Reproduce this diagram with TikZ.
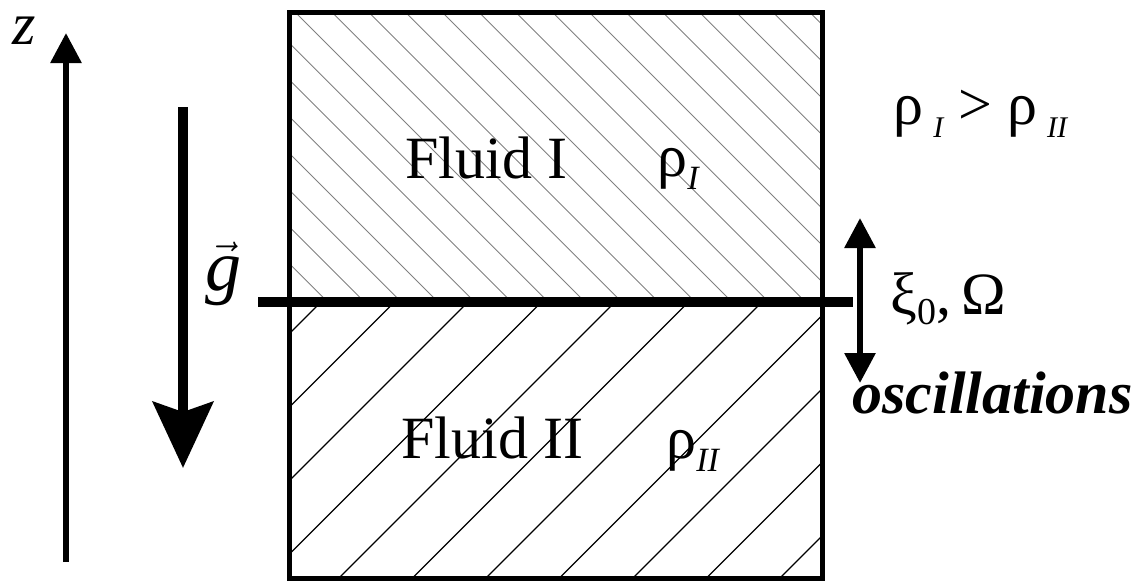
\documentclass[tikz,border=0pt]{standalone}
\usepackage{fontspec}
\setmainfont{Liberation Serif}
\usetikzlibrary{arrows.meta}
\newcommand{\lowsub}[2][17]{\raisebox{-6.5pt}{\fontsize{#1}{#1}\selectfont\itshape #2}}

\begin{document}
\begin{tikzpicture}[
  x=0.5pt,y=-0.5pt,
  txt/.style={inner sep=0pt,anchor=base west,font=\fontsize{30}{36}\selectfont},
  wall/.style={line width=2.5pt},
  ]
  \tikzset{%
    hatchtop/.style={gray,line width=0.45pt},
    hatchbot/.style={black,line width=0.6pt},
    axisarrow/.style={line width=3pt,-{Triangle[length=15pt,width=15pt]}},
  }
  \useasboundingbox (0,0) rectangle (1142,585);
  %Coordinates
  \coordinate (tl) at (289,12);
  \coordinate (br) at (822,578);
  \coordinate (ifl) at (258,302);
  \coordinate (ifr) at (853,302);
  \coordinate (zbot) at (66,562);
  \coordinate (ztop) at (66,33);
  \coordinate (gtop) at (183,107);
  \coordinate (gbot) at (183,468);
  \coordinate (oscup) at (860,218);
  \coordinate (oscdown) at (860,383);
  %Hatching
  \begin{scope}
    \clip (289,12) rectangle (822,302);
    \foreach \k in {-9,...,16}
      \draw[hatchtop] (283+36.75*\k+12,12) -- (283+36.75*\k+302,302);
  \end{scope}
  \begin{scope}
    \clip (289,302) rectangle (822,578);
    \foreach \k in {-1,...,11}
      \draw[hatchbot] (623+73.5*\k-302,302) -- (623+73.5*\k-578,578);
  \end{scope}
  %Box and interface
  \draw[wall] (tl) rectangle (br);
  \draw[line width=5pt] (ifl) -- (ifr);
  %Nodes
  \node[txt,text height=0.5em] (z) at (12,44) {\itshape z};
  \node[txt,font=\fontsize{36}{40}\selectfont] (g) at (205,290) {$\vec{\mbox{\itshape g}}$};
  \node[txt] (fluidI) at (405,178) {Fluid I};
  \node[txt] (rhoI) at (657,176) {ρ\lowsub{I}};
  \node[txt] (fluidII) at (401,458) {Fluid II};
  \node[txt] (rhoII) at (666,458) {ρ\lowsub{II}};
  \node[txt] (ineq) at (893,124) {ρ\,\lowsub[15]{I} > ρ\,\lowsub[15]{II}};
  \node[txt] (amp) at (890,314) {ξ\raisebox{-5pt}{\fontsize{19}{19}\selectfont 0},\,Ω};
  \node[txt,font=\fontsize{30}{36}\selectfont\bfseries\itshape] (osc) at (852,413) {oscillations};
  %Arrows
  \draw[axisarrow] (zbot) -- (ztop);
  \draw[line width=5pt,-{Stealth[length=33pt,width=30pt,inset=5pt]}] (gtop) -- (gbot);
  \draw[axisarrow,{Triangle[length=15pt,width=15pt]}-{Triangle[length=15pt,width=15pt]}] (oscdown) -- (oscup);
\end{tikzpicture}
\end{document}
